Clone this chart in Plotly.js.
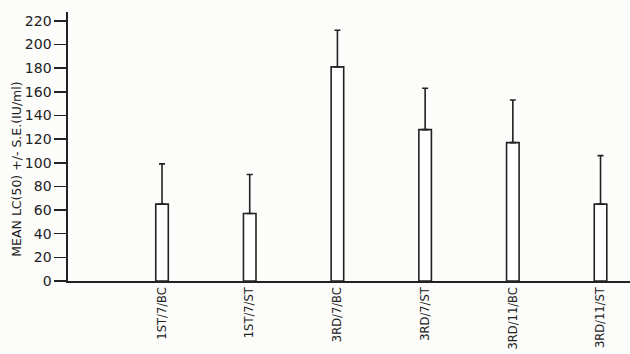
<!DOCTYPE html>
<html>
<head>
<meta charset="utf-8">
<script src="https://cdn.plot.ly/plotly-3.0.1.min.js"></script>
<style>html,body{margin:0;padding:0;background:#fcfcfa;}#chart{width:630px;height:354px;}</style>
</head>
<body>
<div id="chart"></div>
<script>
const categories = ["1ST/7/BC", "1ST/7/ST", "3RD/7/BC", "3RD/7/ST", "3RD/11/BC", "3RD/11/ST"];
const meanLC50 = [65, 57, 181, 128, 117, 65];
const stdError = [34, 33, 31, 35, 36, 41];
const zeros = [0, 0, 0, 0, 0, 0];
const yTicks = [0, 20, 40, 60, 80, 100, 120, 140, 160, 180, 200, 220];

const ink = '#222';
const trace = {
  type: 'bar',
  x: categories,
  y: meanLC50,
  marker: {color: '#ffffff', line: {color: ink, width: 1.6}},
  error_y: {type: 'data', symmetric: false, array: stdError, arrayminus: zeros,
            color: ink, thickness: 1.6, width: 3},
  hoverinfo: 'skip'
};

const layout = {
  width: 630, height: 354,
  margin: {l: 68, r: 0, t: 12, b: 73},
  paper_bgcolor: '#fcfcfa',
  plot_bgcolor: 'rgba(0,0,0,0)',
  showlegend: false,
  bargap: 0.857,
  font: {family: 'DejaVu Sans', color: ink},
  xaxis: {
    type: 'category',
    range: [-1.072, 5.336],
    showline: true, linecolor: ink, linewidth: 1.6,
    ticks: '', tickangle: -90,
    tickfont: {size: 11.5, color: ink},
    showgrid: false, zeroline: false
  },
  yaxis: {
    range: [0, 227.4],
    tickvals: yTicks,
    ticktext: yTicks.map(String),
    showline: true, linecolor: ink, linewidth: 1.6,
    ticks: 'outside', ticklen: 12, tickwidth: 1.6, tickcolor: ink,
    tickfont: {size: 14, color: ink},
    showgrid: false, zeroline: false
  },
  annotations: [{
    xref: 'paper', yref: 'paper', x: -0.092, y: 0.415,
    xanchor: 'center', yanchor: 'middle', textangle: -90,
    text: 'MEAN LC(50) +/- S.E.(IU/ml)', showarrow: false,
    font: {size: 12.5, color: ink}
  }]
};

Plotly.newPlot('chart', [trace], layout, {displayModeBar: false, staticPlot: true});
</script>
</body>
</html>
